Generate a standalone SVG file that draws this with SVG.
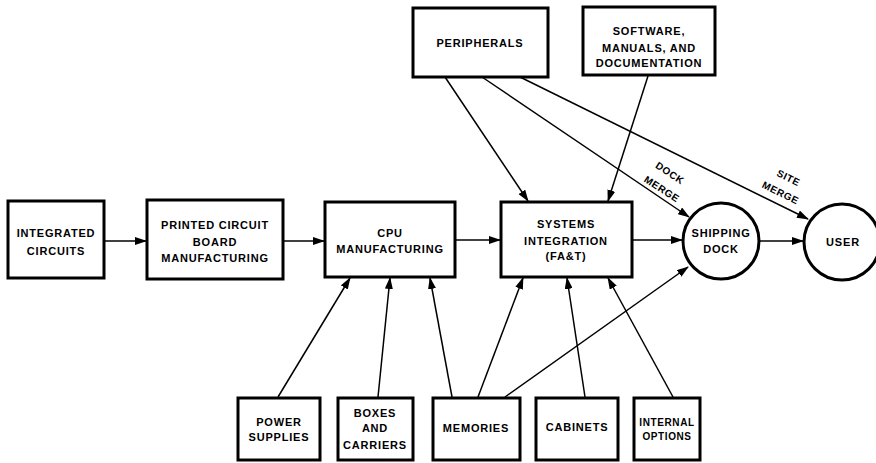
<svg xmlns="http://www.w3.org/2000/svg" width="876" height="463" viewBox="0 0 876 463">
<defs>
<style>
.box{fill:#fff;stroke:#000;stroke-width:3}
.t{font-family:"Liberation Sans",Arial,sans-serif;font-weight:bold;font-size:11px;letter-spacing:0.8px;text-anchor:middle;fill:#000}
.s{font-size:10px;letter-spacing:0.6px}
.c{fill:none;stroke:#000;stroke-width:1.5;marker-end:url(#ah)}
</style>
<marker id="ah" markerUnits="userSpaceOnUse" markerWidth="12" markerHeight="8" refX="11" refY="4" orient="auto">
<path d="M0,0 L12,4 L0,8 z" fill="#000"/>
</marker>
</defs>
<rect width="876" height="463" fill="#fff"/>
<g id="connectors">
<line class="c" x1="104" y1="241" x2="146" y2="241"/>
<line class="c" x1="283" y1="241" x2="324" y2="241"/>
<line class="c" x1="455" y1="240" x2="500" y2="240"/>
<line class="c" x1="632" y1="240" x2="682" y2="240"/>
<line class="c" x1="759" y1="241" x2="803" y2="241"/>
<line class="c" x1="445" y1="77" x2="528" y2="201"/>
<line class="c" x1="482" y1="77" x2="689" y2="217"/>
<line class="c" x1="520" y1="77" x2="808" y2="219"/>
<line class="c" x1="648" y1="76" x2="608" y2="201"/>
<line class="c" x1="278" y1="397" x2="350" y2="278"/>
<line class="c" x1="378" y1="397" x2="390" y2="278"/>
<line class="c" x1="452" y1="397" x2="430" y2="278"/>
<line class="c" x1="478" y1="397" x2="523" y2="278"/>
<line class="c" x1="505" y1="397" x2="688" y2="267"/>
<line class="c" x1="585" y1="397" x2="567" y2="278"/>
<line class="c" x1="673" y1="397" x2="608" y2="278"/>
<text class="t s" transform="translate(668,176) rotate(33)">DOCK</text>
<text class="t s" transform="translate(660,192) rotate(33)">MERGE</text>
<text class="t s" transform="translate(787,181) rotate(26)">SITE</text>
<text class="t s" transform="translate(779,196) rotate(26)">MERGE</text>
</g>
<g id="integrated-circuits">
<rect class="box" x="8" y="201" width="96" height="77"/>
<text class="t" x="56" y="237">INTEGRATED</text>
<text class="t" x="56" y="255">CIRCUITS</text>
</g>
<g id="pcb">
<rect class="box" x="147" y="200" width="136" height="79"/>
<text class="t" x="215" y="229">PRINTED CIRCUIT</text>
<text class="t" x="215" y="246">BOARD</text>
<text class="t" x="215" y="262">MANUFACTURING</text>
</g>
<g id="cpu">
<rect class="box" x="325" y="202" width="130" height="75"/>
<text class="t" x="390" y="237">CPU</text>
<text class="t" x="390" y="253">MANUFACTURING</text>
</g>
<g id="systems-integration">
<rect class="box" x="501" y="202" width="131" height="75"/>
<text class="t" x="566" y="228">SYSTEMS</text>
<text class="t" x="566" y="245">INTEGRATION</text>
<text class="t" x="566" y="260">(FA&amp;T)</text>
</g>
<g id="shipping-dock">
<circle class="box" cx="721" cy="241" r="38"/>
<text class="t" x="721" y="237">SHIPPING</text>
<text class="t" x="721" y="253">DOCK</text>
</g>
<g id="user">
<circle class="box" cx="842" cy="242" r="38"/>
<text class="t" x="843" y="246">USER</text>
</g>
<g id="peripherals">
<rect class="box" x="413" y="8" width="135" height="69"/>
<text class="t" x="480" y="47">PERIPHERALS</text>
</g>
<g id="software">
<rect class="box" x="583" y="7" width="132" height="68"/>
<text class="t" x="649" y="35">SOFTWARE,</text>
<text class="t" x="649" y="52">MANUALS, AND</text>
<text class="t" x="649" y="67">DOCUMENTATION</text>
</g>
<g id="power-supplies">
<rect class="box" x="238" y="398" width="82" height="62"/>
<text class="t" x="279" y="426">POWER</text>
<text class="t" x="279" y="441">SUPPLIES</text>
</g>
<g id="boxes-carriers">
<rect class="box" x="338" y="398" width="75" height="62"/>
<text class="t" x="375" y="417">BOXES</text>
<text class="t" x="375" y="432">AND</text>
<text class="t" x="375" y="449">CARRIERS</text>
</g>
<g id="memories">
<rect class="box" x="433" y="398" width="87" height="62"/>
<text class="t" x="476" y="432">MEMORIES</text>
</g>
<g id="cabinets">
<rect class="box" x="536" y="398" width="82" height="62"/>
<text class="t" x="577" y="431">CABINETS</text>
</g>
<g id="internal-options">
<rect class="box" x="634" y="398" width="66" height="62"/>
<text class="t s" x="667" y="426">INTERNAL</text>
<text class="t s" x="667" y="440">OPTIONS</text>
</g>
</svg>
